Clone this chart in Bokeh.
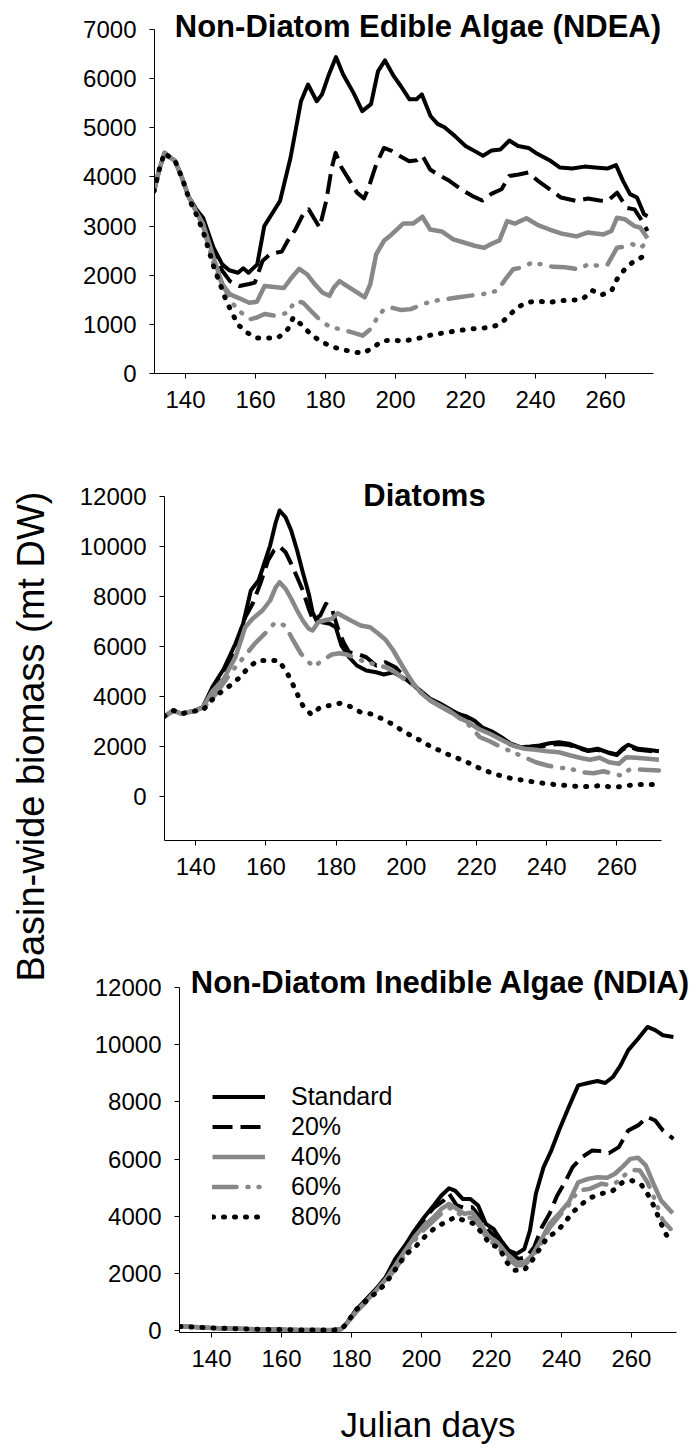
import math
from bokeh.plotting import figure
from bokeh.models import Range1d, FixedTicker, Label, Legend, LegendItem, ColumnDataSource
from bokeh.layouts import row, column
from bokeh.embed import file_html
from bokeh.resources import INLINE

# ---------------- data (Julian day, basin-wide biomass mt DW) ----------------
series_labels = ["Standard", "20%", "40%", "60%", "80%"]
x_ticks = [140, 160, 180, 200, 220, 240, 260]
ndea_yticks = [0, 1000, 2000, 3000, 4000, 5000, 6000, 7000]
diat_yticks = [0, 2000, 4000, 6000, 8000, 10000, 12000]
ndia_yticks = [0, 2000, 4000, 6000, 8000, 10000, 12000]

ndea_start = [(131, 3710), (132.5, 4150), (134, 4490), (135.5, 4400), (137, 4330), (139, 3980), (141, 3580)]

ndea_std = ndea_start + [(143, 3350), (145, 3170), (148, 2560), (150.5, 2220), (152.5, 2100), (155, 2050), (156.5, 2140),
    (158, 2050), (160.5, 2220), (162.5, 3000), (167, 3510), (170, 4390), (173, 5540), (175, 5880), (177.5, 5540),
    (179, 5680), (181, 6090), (183, 6440), (185, 6090), (188, 5710), (190.5, 5340), (193, 5480), (195, 6150),
    (197, 6370), (199.5, 6050), (201.5, 5850), (204, 5580), (206, 5580), (207.5, 5680), (210, 5240), (212, 5080),
    (214, 5010), (217, 4830), (220, 4630), (222.5, 4530), (225, 4430), (227.5, 4540), (230, 4560), (232.5, 4740),
    (235, 4630), (238, 4590), (240.5, 4470), (244, 4340), (247, 4190), (250.5, 4170), (254, 4210), (257, 4190),
    (260.5, 4170), (263, 4240), (265, 3920), (267, 3650), (269, 3580), (271, 3240), (272, 3200)]

ndea_20 = ndea_start + [(143, 3350), (145, 3150), (148.3, 2430), (150.5, 2090), (152.7, 1880), (155.4, 1780), (158.2, 1820),
    (159.8, 1850), (162, 2290), (164.2, 2430), (167.5, 2480), (169.2, 2700), (171.4, 2930), (173.6, 3240),
    (175.2, 3340), (176.9, 3140), (178.3, 2970), (180.2, 3510), (181.8, 4190), (182.9, 4490), (184.6, 4190),
    (187.3, 3880), (189, 3680), (191, 3560), (192.3, 3780), (194.5, 4260), (196.7, 4590), (198.9, 4530),
    (201.1, 4430), (203.9, 4320), (206.1, 4340), (207.7, 4430), (209.9, 4150), (212.1, 4050), (215.4, 3920),
    (218.7, 3750), (222, 3610), (224.8, 3520), (227.5, 3660), (230.3, 3750), (232.5, 4020), (235.2, 4050),
    (238, 4090), (240.7, 3920), (244, 3750), (247.3, 3580), (251.7, 3510), (255, 3560), (258.3, 3520),
    (260.6, 3510), (263.3, 3680), (266.1, 3370), (268.3, 3340), (270.5, 3100), (272, 2900)]

ndea_40 = ndea_start + [(143, 3300), (145, 3050), (148.3, 2300), (150.5, 1820), (152.7, 1610), (155.4, 1530), (158.2, 1440),
    (160.4, 1460), (162.6, 1780), (165.3, 1760), (168.1, 1740), (170.3, 1950), (172.5, 2130), (174.7, 2020),
    (176.9, 1820), (179.1, 1650), (181.1, 1580), (182.4, 1750), (184, 1880), (186.2, 1780), (189, 1650),
    (191.2, 1550), (192.8, 1820), (194.5, 2430), (196.7, 2700), (198.9, 2830), (202.2, 3050), (205, 3050),
    (207.7, 3190), (209.9, 2930), (213.2, 2890), (216.5, 2730), (219.8, 2660), (222.6, 2600), (225.3, 2560),
    (227.5, 2640), (229.7, 2710), (231.9, 3100), (234.1, 3050), (237.4, 3160), (240.7, 3020), (244, 2930),
    (247.3, 2850), (251.7, 2790), (255, 2870), (259.4, 2830), (261.7, 2900), (263.3, 3170), (265.5, 3140),
    (268.3, 3000), (269.9, 2970), (272, 2750)]

ndea_60 = ndea_start + [(143, 3300), (145, 3000), (148.3, 2160), (150.5, 1820), (153.3, 1440), (155.4, 1270), (158.2, 1100),
    (160.4, 1140), (162.6, 1210), (165.9, 1170), (169.2, 1240), (171.4, 1480), (173.6, 1440), (176.3, 1240),
    (179.1, 1040), (181.8, 935), (184.6, 900), (187.9, 830), (190.6, 770), (192.8, 900), (194.5, 1100),
    (196.7, 1310), (198.9, 1340), (201.7, 1290), (204.4, 1310), (207.7, 1410), (211, 1480), (214.3, 1510),
    (217.6, 1545), (220.9, 1580), (224.2, 1610), (226.4, 1630), (229.2, 1690), (231.4, 1920), (233.6, 2120),
    (236.3, 2160), (239.1, 2260), (241.8, 2220), (245.1, 2170), (248.4, 2160), (252.3, 2120), (255, 2220),
    (258.3, 2190), (260.6, 2220), (263.3, 2560), (265.5, 2580), (267.7, 2630), (269.9, 2560), (272, 2660)]

ndea_80 = [(131, 3710), (132.5, 4150), (134, 4490), (135.5, 4400), (137, 4330), (139, 3980), (141, 3550), (143, 3250),
    (145, 2900), (148.3, 2120), (149.9, 1820), (151.6, 1480), (153.3, 1240), (154.9, 1000), (157.6, 830),
    (160.4, 720), (163.7, 720), (166.5, 730), (169.2, 900), (170.8, 1140), (173, 1000), (175.8, 800),
    (178.5, 660), (181.3, 560), (184, 500), (187.3, 450), (190.6, 410), (193.4, 515), (196.1, 660),
    (198.9, 680), (202.2, 660), (205.5, 700), (208.3, 745), (211, 800), (214.3, 830), (217.6, 870),
    (220.9, 900), (223.7, 920), (227, 935), (229.7, 1000), (231.9, 1140), (234.7, 1340), (237.4, 1440),
    (240.7, 1480), (243.5, 1440), (246.8, 1480), (250.1, 1490), (253.4, 1510), (256.2, 1690), (258.9, 1600),
    (261.7, 1680), (263.3, 1920), (265.5, 2120), (267.7, 2260), (270.5, 2370), (272, 2430)]

diat_start = [(131, 3200), (133.7, 3440), (135.9, 3310), (139.2, 3410)]

diat_std = diat_start + [(142, 3570), (144.7, 4370), (148, 5110), (151.3, 6110), (153.5, 6910), (155.7, 8240), (157.9, 8640),
    (159.5, 9310), (161.2, 10040), (162.8, 10970), (163.9, 11440), (165.6, 11170), (167.2, 10640),
    (168.9, 9840), (170.5, 8970), (172.2, 8110), (173.3, 7370), (174.4, 7040), (176, 6970), (178.2, 6910),
    (179.9, 6770), (181.5, 6040), (183.7, 5570), (185.9, 5240), (188.6, 5040), (191.4, 4970), (193.6, 4880),
    (196.3, 4970), (199.6, 4710), (201.8, 4480), (204, 4240), (206.8, 3910), (209.5, 3730), (212.2, 3510),
    (214.4, 3310), (217.2, 3200), (219.4, 3040), (221.6, 2770), (224.3, 2610), (227.1, 2370), (229.8, 2110),
    (232.6, 1970), (235.3, 2000), (238, 2040), (240.8, 2130), (243.5, 2170), (246.3, 2110), (249, 1970),
    (251.8, 1840), (254.5, 1910), (257.3, 1770), (260, 1680), (261.6, 1910), (263.3, 2070), (266, 1910),
    (268.8, 1870), (272, 1810)]

diat_20 = diat_start + [(142, 3560), (144.7, 4300), (148, 4910), (151.3, 5970), (154.1, 7170), (156.2, 7710), (158.4, 8510),
    (160.6, 9440), (162.3, 9840), (163.9, 10000), (165.6, 9770), (167.2, 9310), (168.9, 8770), (170.5, 8240),
    (172.2, 7510), (173.5, 7040), (175.5, 7240), (177.1, 7710), (178.8, 7510), (180.4, 6770), (182.1, 6170),
    (183.7, 5770), (185.9, 5710), (188.6, 5570), (191.4, 5240), (194.1, 5370), (196.9, 5170), (199.6, 4770),
    (201.8, 4480), (206.8, 3880), (212.2, 3480), (217.2, 3160), (221.6, 2720), (224.3, 2560), (227.1, 2330),
    (229.8, 2070), (232.6, 1950), (235.3, 1950), (238, 1980), (240.8, 2070), (243.5, 2100), (246.3, 2060),
    (249, 1930), (251.8, 1820), (254.5, 1870), (257.3, 1750), (260, 1660), (261.6, 1870), (263.3, 2000),
    (266, 1870), (268.8, 1830), (272, 1790)]

diat_40 = diat_start + [(142, 3550), (144.7, 4200), (148, 4710), (151.3, 5570), (154.1, 6770), (156.2, 7110), (159, 7440),
    (161.2, 7840), (162.8, 8370), (163.9, 8570), (165.6, 8310), (167.2, 7910), (168.9, 7440), (170.5, 7040),
    (172.2, 6710), (173.3, 6640), (174.9, 6970), (176.6, 7040), (178.8, 7110), (180.4, 7330), (182.1, 7200),
    (184.2, 7040), (187, 6840), (189.7, 6770), (191.9, 6530), (194.1, 6270), (196.3, 5840), (198.5, 5310),
    (200.2, 4910), (201.8, 4570), (204, 4170), (206.8, 3840), (209.5, 3640), (212.2, 3440), (215, 3150),
    (217.7, 2970), (220.5, 2710), (223.8, 2510), (227.1, 2270), (230.4, 2040), (233.7, 1910), (236.9, 1870),
    (240.2, 1810), (243.5, 1770), (246.8, 1640), (250.1, 1530), (252.3, 1470), (255.1, 1550), (257.8, 1370),
    (260.6, 1310), (262.7, 1570), (265.5, 1550), (268.8, 1510), (272, 1470)]

diat_60 = diat_start + [(142, 3500), (145.8, 4110), (149.1, 4770), (151.3, 5170), (154.1, 5640), (156.8, 6110), (160.1, 6570),
    (162.3, 6910), (163.9, 6930), (165.6, 6810), (167.8, 6240), (170, 5710), (172.2, 5370), (173.8, 5200),
    (176, 5440), (178.8, 5680), (180.9, 5730), (183.1, 5680), (185.9, 5510), (188.6, 5370), (191.4, 5280),
    (194.1, 5170), (196.9, 4970), (199.6, 4670), (201.8, 4480), (204.6, 4110), (207.3, 3800), (210.1, 3570),
    (212.8, 3350), (215.5, 3110), (218.3, 2800), (221, 2370), (223.8, 2210), (227.1, 1970), (230.4, 1770),
    (233.7, 1570), (236.9, 1370), (240.2, 1240), (243.5, 1150), (246.8, 1110), (250.1, 970), (253.4, 930),
    (256.2, 1010), (258.9, 910), (261.1, 840), (263.8, 1090), (267.7, 1070), (272, 1040)]

diat_80 = diat_start + [(142, 3440), (144.7, 3870), (147.5, 4210), (150.2, 4480), (152.6, 4770), (155.1, 5170), (157.7, 5440),
    (160.6, 5440), (163.6, 5440), (165.8, 5010), (167.4, 4570), (168.9, 4110), (170.5, 3640), (172.9, 3280),
    (175.5, 3570), (178.2, 3640), (181, 3730), (184, 3600), (187, 3370), (189.7, 3310), (192.8, 3130),
    (195.8, 2910), (198.5, 2670), (201.3, 2440), (204, 2240), (206.8, 2010), (209.5, 1840), (212.6, 1640),
    (215.5, 1480), (218.3, 1310), (221.2, 1110), (224.5, 930), (227.4, 810), (230.4, 710), (233.7, 640),
    (236.9, 570), (240.2, 510), (243, 470), (245.7, 440), (249, 400), (252.3, 400), (255.6, 440), (258.7, 370),
    (261.6, 400), (265, 480), (268.2, 480), (272, 480)]

ndia_start = [(131, 150), (135, 130), (140, 100), (145, 80), (150, 60), (155, 50), (160, 40), (165, 30), (170, 30),
    (175, 30), (177, 50)]

ndia_std = ndia_start + [(178.8, 290), (181.5, 760), (184.3, 1110), (187, 1460), (189.8, 1870), (192.5, 2510), (195.3, 2980),
    (198, 3500), (200.8, 3970), (203.5, 4380), (205.7, 4730), (207.9, 4980), (209.6, 4900), (211.8, 4610),
    (214, 4610), (216.2, 4380), (218.4, 3740), (220.6, 3560), (222.8, 3150), (225, 2800), (227.2, 2690),
    (229.4, 2860), (231, 3500), (232.7, 4790), (234.9, 5720), (237.1, 6300), (239.3, 7000), (242.1, 7820),
    (244.8, 8580), (247.6, 8660), (250.3, 8730), (252.5, 8660), (254.7, 8870), (256.9, 9280), (259.1, 9810),
    (261.9, 10210), (264.6, 10620), (266.8, 10510), (269, 10330), (272, 10270)]

ndia_20 = ndia_start + [(178.8, 290), (181.5, 760), (184.3, 1110), (187, 1460), (189.8, 1870), (192.5, 2480), (195.3, 2950),
    (198, 3450), (200.8, 3900), (203.5, 4300), (206.3, 4550), (207.9, 4790), (210.1, 4380), (212.3, 4300),
    (214.5, 4320), (216.7, 3970), (218.9, 3560), (221.1, 3270), (223.3, 3040), (225.5, 2690), (227.7, 2510),
    (229.9, 2570), (232.2, 2920), (234.4, 3620), (236.6, 4090), (238.8, 4730), (241, 5190), (243.2, 5720),
    (245.9, 6070), (248.7, 6300), (251.4, 6280), (253.6, 6210), (256.4, 6420), (259.1, 7000), (261.9, 7180),
    (264.6, 7470), (266.8, 7350), (269, 7000), (272, 6710)]

ndia_40 = ndia_start + [(178.8, 280), (181.5, 700), (184.3, 1050), (187, 1400), (189.8, 1800), (192.5, 2280), (195.3, 2800),
    (198, 3270), (200.8, 3680), (203.5, 3970), (205.7, 4260), (207.9, 4440), (210.1, 4260), (212.3, 4090),
    (214.5, 4140), (216.7, 3790), (218.9, 3330), (221.7, 3090), (224.4, 2690), (227.2, 2390), (229.4, 2390),
    (231.6, 2630), (234.4, 3210), (236.6, 3740), (239.3, 4090), (242.1, 4490), (244.8, 5190), (247.6, 5310),
    (250.3, 5370), (253.1, 5350), (255.3, 5490), (257.5, 5740), (259.7, 6010), (261.9, 6050), (264.1, 5780),
    (266.3, 5140), (268.5, 4550), (271.8, 4110)]

ndia_60 = ndia_start + [(178.8, 270), (181.5, 680), (184.3, 1020), (187, 1370), (189.8, 1750), (192.5, 2150), (195.3, 2650),
    (198, 3150), (200.8, 3550), (203.5, 3850), (205.7, 4100), (207.9, 4300), (210.1, 4150), (212.3, 3950),
    (214.5, 3950), (216.7, 3650), (218.9, 3200), (221.7, 2950), (224.4, 2550), (227.2, 2280), (229.4, 2300),
    (231.6, 2550), (234.4, 3100), (236.6, 3600), (239.3, 4000), (242.1, 4400), (244.8, 4900), (248.1, 4960),
    (251.4, 5140), (254.7, 5080), (257.5, 5390), (260.2, 5630), (262.4, 5600), (264.6, 5190), (266.8, 4550),
    (269, 3850), (271.2, 3560)]

ndia_80 = ndia_start + [(178.5, 220), (181, 700), (183.7, 990), (186.5, 1280), (189.2, 1580), (191.4, 1930), (193.6, 2340),
    (195.8, 2690), (198.6, 2980), (201.3, 3330), (204.1, 3620), (206.8, 3790), (209.6, 3970), (212.3, 3850),
    (215.1, 3740), (217.8, 3330), (219.5, 3040), (222.2, 2900), (224.4, 2390), (226.6, 2120), (229.4, 2120),
    (231.6, 2450), (233.8, 2860), (236, 3270), (238.8, 3480), (241, 3790), (243.2, 4140), (245.9, 4440),
    (248.7, 4670), (251.4, 4790), (254.7, 4900), (257.5, 5190), (260.2, 5250), (263, 5080), (265.2, 4670),
    (266.8, 4260), (267.9, 3910), (269.6, 3440), (271.2, 3090)]

# ---------------- styling ----------------
FONT = "Liberation Sans"
GRAY = "#888888"
styles = [
    dict(line_color="black", line_width=4, line_dash="solid", line_cap="butt"),
    dict(line_color="black", line_width=4, line_dash="20 8", line_cap="butt"),
    dict(line_color=GRAY, line_width=4.5, line_dash="solid", line_cap="butt"),
    dict(line_color=GRAY, line_width=4.5, line_dash="24 11 1 10 1 11", line_cap="round"),
    dict(line_color="black", line_width=5, line_dash="1 10", line_cap="round"),
]


def make_panel(height, bl, bb, xr, yr, xb, yb, yticks, series, title, tx, ty):
    # frame is extended to the top and right edges of the canvas so the title fits
    # inside it; the axes are limited to the data extent with `bounds`
    p = figure(width=636, height=height, x_range=Range1d(*xr), y_range=Range1d(*yr),
               output_backend="svg", toolbar_location=None,
               min_border_left=bl, min_border_right=0, min_border_top=0, min_border_bottom=bb)
    p.title.visible = False
    p.outline_line_color = None
    p.xgrid.visible = False
    p.ygrid.visible = False
    p.xaxis.ticker = FixedTicker(ticks=x_ticks, minor_ticks=[])
    p.yaxis.ticker = FixedTicker(ticks=yticks, minor_ticks=[])
    p.xaxis.bounds = xb
    p.yaxis.bounds = yb
    for ax in (p.xaxis[0], p.yaxis[0]):
        ax.axis_line_color = "black"
        ax.axis_line_width = 1
        ax.major_tick_line_color = "black"
        ax.major_tick_in = 0
        ax.major_tick_out = 5
        ax.minor_tick_out = 0
        ax.minor_tick_in = 0
        ax.major_label_text_font = FONT
        ax.major_label_text_font_size = "24px"
        ax.major_label_text_color = "black"
    p.xaxis.major_label_standoff = 12
    p.yaxis.major_label_standoff = 13
    renderers = []
    for pts, st in zip(series, styles):
        src = ColumnDataSource(dict(day=[d for d, _ in pts], val=[v for _, v in pts]))
        r = p.line("day", "val", source=src, line_join="round", **st)
        renderers.append(r)
    p.add_layout(Label(x=tx, y=ty, x_units="screen", y_units="screen", text=title,
                       text_align="center", text_baseline="alphabetic", text_font=FONT,
                       text_font_size="31px", text_font_style="bold", text_color="black"))
    return p, renderers


p1, _ = make_panel(440, 94, 67, (131.14, 286.0), (0, 7590), (131.14, 273.7), (0, 7000), ndea_yticks,
                   [ndea_std, ndea_20, ndea_40, ndea_60, ndea_80],
                   "Non-Diatom Edible Algae (NDEA)", 264, 347)
p2, _ = make_panel(460, 104, 60, (131.1, 282.7), (-1760, 14240), (131.1, 272.8), (-1760, 12000), diat_yticks,
                   [diat_std, diat_20, diat_40, diat_60, diat_80],
                   "Diatoms", 260, 345)
p3, r3 = make_panel(495, 119, 63, (130.86, 278.6), (-60, 15041), (130.86, 272.9), (-60, 12000), ndia_yticks,
                    [ndia_std, ndia_20, ndia_40, ndia_60, ndia_80],
                    "Non-Diatom Inedible Algae (NDIA)", 261, 350)

legend = Legend(items=[LegendItem(label=lab, renderers=[r]) for lab, r in zip(series_labels, r3)],
                location=(33, 101), glyph_width=53, glyph_height=25, label_height=25,
                label_standoff=26, spacing=1, padding=0, margin=0,
                border_line_color=None, background_fill_alpha=0,
                label_text_font=FONT, label_text_font_size="25px", label_text_color="black")
p3.add_layout(legend)


def text_box(width, height, text, x, y, size, angle=0.0, baseline="middle"):
    f = figure(width=width, height=height, x_range=Range1d(0, width), y_range=Range1d(0, height),
               output_backend="svg", toolbar_location=None, min_border=0,
               x_axis_location=None, y_axis_location=None)
    f.title.visible = False
    f.outline_line_color = None
    f.grid.visible = False
    f.add_layout(Label(x=x, y=y, text=text, angle=angle, text_align="center",
                       text_baseline=baseline, text_font=FONT, text_font_size=size,
                       text_color="black"))
    return f


ylab = text_box(60, 1449, "Basin-wide biomass (mt DW)", 30, 1449 - 736, "38px", angle=math.pi / 2)
xlab = text_box(636, 54, "Julian days", 427.5 - 60, 25, "35px", baseline="alphabetic")

layout = row(ylab, column(row(p1), row(p2), row(p3), row(xlab), spacing=0), spacing=0)
open("out.html", "w").write(file_html(layout, INLINE))
